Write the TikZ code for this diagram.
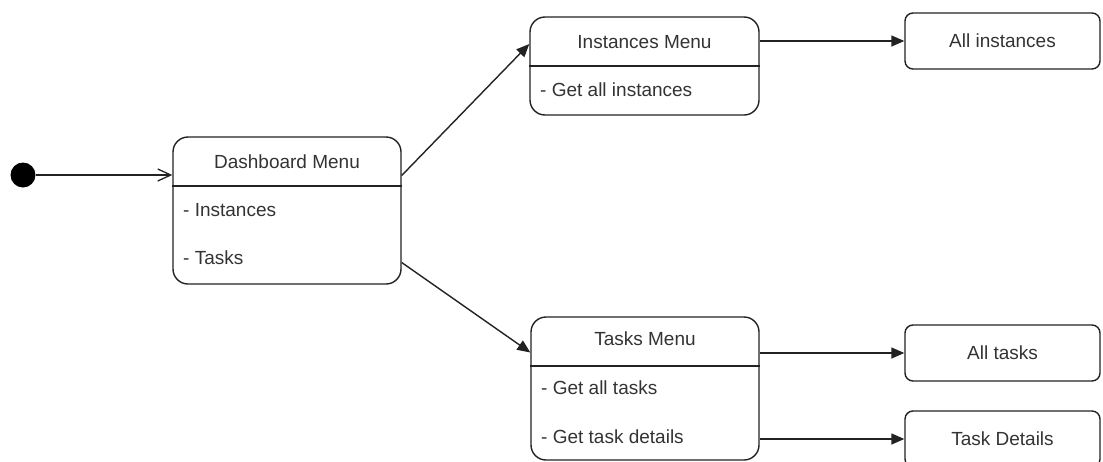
\documentclass[tikz,border=0pt]{standalone}
\usepackage{fontspec}
\setmainfont{Liberation Sans}
\usetikzlibrary{arrows.meta}
\definecolor{ink}{HTML}{222222}
\definecolor{txt}{HTML}{333333}
\tikzset{
  statebox/.style={draw=ink, line width=1.4pt, rounded corners=15pt, inner sep=0pt},
  leafbox/.style={draw=ink, line width=1.4pt, rounded corners=8pt, inner sep=0pt,
    minimum width=195pt, minimum height=56pt, text=txt, font=\fontsize{19}{22}\selectfont},
  title/.style={text=txt, inner sep=0pt, font=\fontsize{19}{22}\selectfont},
  item/.style={text=txt, inner sep=0pt, anchor=west, font=\fontsize{19}{22}\selectfont},
  sep/.style={draw=ink, line width=1.4pt},
  flow/.style={draw=ink, line width=1.4pt, -{Triangle[length=13pt,width=11pt]}},
  entry/.style={draw=ink, line width=1.4pt, -{Straight Barb[length=13pt,width=12pt,line width=1.3pt]}},
}
\begin{document}
\begin{tikzpicture}[x=1pt, y=-1pt]
  \useasboundingbox (0,0) rectangle (1103,461);

  % initial pseudo-state
  \node[circle, fill=black, minimum size=25pt, inner sep=0pt] (init) at (23,175) {};

  % Dashboard Menu state
  \node[statebox, minimum width=228pt, minimum height=147pt] (dash) at (287,210.5) {};
  \draw[sep] (dash.west |- 0,186) -- (dash.east |- 0,186);
  \node[title] (dashT) at (287,162) {Dashboard Menu};
  \node[item] (dashA) at (183,210) {- Instances};
  \node[item] (dashB) at (183,258) {- Tasks};

  % Instances Menu state
  \node[statebox, minimum width=229pt, minimum height=98pt] (inst) at (644.5,66) {};
  \draw[sep] (inst.west |- 0,66) -- (inst.east |- 0,66);
  \node[title] (instT) at (644.5,42) {Instances Menu};
  \node[item] (instA) at (540,90) {- Get all instances};

  % Tasks Menu state
  \node[statebox, minimum width=228pt, minimum height=143pt] (tasks) at (645,388.5) {};
  \draw[sep] (tasks.west |- 0,366) -- (tasks.east |- 0,366);
  \node[title] (tasksT) at (645,339) {Tasks Menu};
  \node[item] (tasksA) at (541,388) {- Get all tasks};
  \node[item] (tasksB) at (541,437) {- Get task details};

  % result states
  \node[leafbox] (allinst) at (1002.5,41) {All instances};
  \node[leafbox] (alltasks) at (1002.5,353) {All tasks};
  \node[leafbox] (details) at (1002.5,439) {Task Details};

  % transitions
  \draw[entry] (init) -- (init -| dash.west);
  \draw[flow] ([yshift=35pt]dash.east) -- ([yshift=22pt]inst.west);
  \draw[flow] ([yshift=-52pt]dash.east) -- ([yshift=36pt]tasks.west);
  \draw[flow] (inst.east |- allinst.west) -- (allinst.west);
  \draw[flow] (tasks.east |- alltasks.west) -- (alltasks.west);
  \draw[flow] (tasks.east |- details.west) -- (details.west);
\end{tikzpicture}
\end{document}
